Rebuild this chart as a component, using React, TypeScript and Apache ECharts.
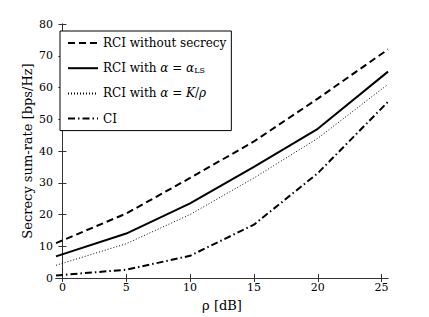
import React, { useEffect, useRef } from "react";
import * as echarts from "echarts";

const rho = [-0.5, 5, 10, 15, 20, 25.5];
const noSecrecy = [11, 20.3, 31.5, 43, 56.5, 72];
const rciLS = [6.8, 14, 23.5, 35, 47, 65];
const rciK = [4, 10.8, 20, 31.5, 44, 61];
const ciVals = [0.8, 2.6, 7, 16.8, 33, 55.5];
const xTicks = [0, 5, 10, 15, 20, 25];
const seriesNames = ["RCI without secrecy", "RCI with α = αLS", "RCI with α = K/ρ", "CI"];
const legendLabels = [
  "RCI without secrecy",
  "RCI with {m|α} = {m|α}{s|LS}",
  "RCI with {m|α} = {m|K}/{m|ρ}",
  "CI",
];

const FONT = "DejaVu Serif";

function pairs(ys: number[]) {
  return rho.map((x, i) => [x, ys[i]]);
}

export default function App() {
  const ref = useRef<HTMLDivElement>(null);
  useEffect(() => {
    if (!ref.current) return;
    const chart = echarts.init(ref.current, undefined, { renderer: "svg" });
    const axisLine = { show: true, lineStyle: { color: "#333", width: 1 } };
    const labelMap: Record<string, string> = {};
    seriesNames.forEach((n, i) => (labelMap[n] = legendLabels[i]));
    chart.setOption({
      animation: false,
      backgroundColor: "#fff",
      grid: { left: 56, right: 41, top: 24, bottom: 38 },
      legend: {
        orient: "vertical",
        left: 60,
        top: 31,
        padding: [6, 5, 6, 7],
        itemWidth: 30,
        itemHeight: 14,
        itemGap: 13.2,
        backgroundColor: "#fff",
        borderColor: "#000",
        borderWidth: 1,
        borderRadius: 0,
        itemStyle: { opacity: 0 },
        data: seriesNames,
        formatter: (name: string) => labelMap[name],
        textStyle: {
          fontFamily: FONT,
          fontSize: 12,
          color: "#000",
          rich: {
            m: { fontFamily: FONT, fontSize: 12, fontStyle: "italic", color: "#000" },
            s: { fontFamily: FONT, fontSize: 8, color: "#000", verticalAlign: "bottom", padding: [4, 0, 0, 0] },
          },
        },
      },
      xAxis: [
        {
          type: "value",
          min: -0.5,
          max: 25.5,
          name: "ρ [dB]",
          nameLocation: "middle",
          nameGap: 21,
          nameMoveOverlap: false,
          nameTextStyle: { fontFamily: FONT, fontSize: 13, color: "#000" },
          axisLine,
          axisTick: { show: true, inside: true, length: 4, customValues: xTicks, lineStyle: { color: "#333" } },
          axisLabel: { show: true, customValues: xTicks, fontFamily: FONT, fontSize: 11, color: "#000", margin: 4 },
          splitLine: { show: false },
        },
        {
          type: "value",
          position: "top",
          min: -0.5,
          max: 25.5,
          axisLine,
          axisTick: { show: true, inside: true, length: 4, customValues: xTicks, lineStyle: { color: "#333" } },
          axisLabel: { show: false },
          splitLine: { show: false },
        },
      ],
      yAxis: [
        {
          type: "value",
          min: 0,
          max: 80,
          interval: 10,
          name: "Secrecy sum-rate [bps/Hz]",
          nameLocation: "middle",
          nameGap: 22,
          nameMoveOverlap: false,
          nameTextStyle: { fontFamily: FONT, fontSize: 13, color: "#000" },
          axisLine,
          axisTick: { show: true, inside: true, length: 4, lineStyle: { color: "#333" } },
          axisLabel: { fontFamily: FONT, fontSize: 11, color: "#000", margin: 3 },
          splitLine: { show: false },
        },
        {
          type: "value",
          position: "right",
          min: 0,
          max: 80,
          interval: 10,
          axisLine,
          axisTick: { show: true, inside: true, length: 4, lineStyle: { color: "#333" } },
          axisLabel: { show: false },
          splitLine: { show: false },
        },
      ],
      series: [
        {
          name: seriesNames[0],
          type: "line",
          symbol: "none",
          data: pairs(noSecrecy),
          lineStyle: { color: "#000", width: 2, type: [7, 4] },
          itemStyle: { color: "#000" },
        },
        {
          name: seriesNames[1],
          type: "line",
          symbol: "none",
          data: pairs(rciLS),
          lineStyle: { color: "#000", width: 2, type: "solid" },
          itemStyle: { color: "#000" },
        },
        {
          name: seriesNames[2],
          type: "line",
          symbol: "none",
          data: pairs(rciK),
          lineStyle: { color: "#000", width: 1, type: [1, 2] },
          itemStyle: { color: "#000" },
        },
        {
          name: seriesNames[3],
          type: "line",
          symbol: "none",
          data: pairs(ciVals),
          lineStyle: { color: "#000", width: 2, type: [7, 3, 1.5, 3] },
          itemStyle: { color: "#000" },
        },
      ],
    });
    return () => chart.dispose();
  }, []);
  return <div ref={ref} style={{ width: 429, height: 317, position: "absolute", left: 0, top: 0 }} />;
}
